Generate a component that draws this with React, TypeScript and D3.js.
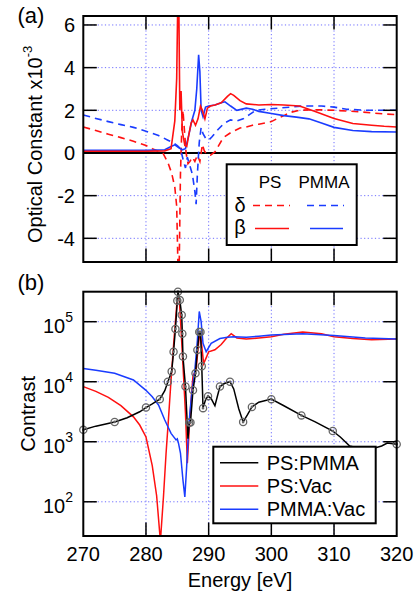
import React from 'react';
import * as d3 from 'd3';

// energy axis
const energyTicks = [270, 280, 290, 300, 310, 320];

// (a) optical constants x1e-3, [energy eV, value]
const psBeta: [number, number][] = [
  [270, 0.08], [280, 0.08], [283, 0.1], [284, 0.2], [284.6, 1.5], [284.9, 3.5], [285.05, 6.6],
  [285.25, 6.6], [285.4, 2.0], [285.6, 2.9], [285.8, 1.0], [286.2, 0.35], [286.5, 0.3], [286.8, 0.8],
  [287.2, 1.4], [287.5, 1.55], [287.9, 1.3], [288.3, 1.6], [288.7, 2.2], [289.0, 2.0], [289.4, 1.6],
  [289.8, 2.1], [290.3, 2.2], [291, 2.25], [292, 2.35], [293, 2.65], [293.5, 2.78], [294, 2.7],
  [295, 2.45], [296, 2.3], [298, 2.25], [300, 2.27], [302, 2.25], [304.5, 2.2], [307, 1.94],
  [310, 1.62], [313, 1.38], [316, 1.3], [318, 1.25], [320, 1.22],
];
const pmmaBeta: [number, number][] = [
  [270, 0.12], [280, 0.12], [283, 0.15], [284, 0.3], [284.6, 0.38], [285.2, 0.25], [285.8, 0.15],
  [286.3, 0.2], [286.8, 0.8], [287.3, 1.5], [287.8, 2.0], [288.1, 3.0], [288.4, 4.6], [288.6, 3.8],
  [288.8, 2.0], [289.1, 1.7], [289.5, 2.15], [290, 2.2], [291, 2.25], [292, 2.35], [292.6, 2.4],
  [293.5, 2.2], [294.5, 2.0], [296, 2.1], [297, 2.05], [298, 1.95], [300, 1.85], [302, 1.75],
  [304, 1.68], [306, 1.6], [308, 1.4], [310, 1.2], [313, 1.05], [316, 1.0], [320, 0.98],
];
const psDelta: [number, number][] = [
  [270, 1.22], [272, 1.05], [274, 0.88], [276, 0.72], [278, 0.55], [280, 0.35], [281, 0.2],
  [282.7, 0.0], [283.5, -0.45], [284.1, -0.95], [284.6, -1.6], [284.9, -2.5], [285.1, -5.3],
  [285.3, -5.3], [285.5, -1.0], [285.7, 1.0], [285.9, 2.0], [286.1, 1.2], [286.4, 0.0], [286.7, -0.5],
  [287.0, -0.4], [287.4, -0.2], [287.8, -0.4], [288.2, -0.1], [288.6, -0.4], [289.0, 0.4],
  [289.3, 0.1], [289.7, -0.05], [290.3, -0.1], [291, 0.05], [291.5, 0.3], [292, 0.55], [292.5, 0.75],
  [293.5, 0.95], [295, 1.17], [296, 1.22], [297, 1.3], [298, 1.35], [300, 1.47], [301, 1.62],
  [302, 1.75], [303, 1.9], [304.5, 2.0], [306, 2.02], [308, 2.02], [310, 2.0], [312, 1.97],
  [314, 1.93], [316, 1.88], [318, 1.83], [320, 1.8],
];
const pmmaDelta: [number, number][] = [
  [270, 1.78], [272, 1.62], [274, 1.47], [276, 1.33], [278, 1.2], [280, 1.02], [282, 0.82],
  [283.5, 0.6], [284.5, 0.45], [285, 0.35], [285.5, 0.2], [286, -0.4], [286.3, -0.7], [286.6, -0.2],
  [287, -0.6], [287.4, -1.0], [287.8, -1.8], [288.0, -2.4], [288.2, -1.0], [288.5, 0.5],
  [288.8, 1.2], [289.1, 0.9], [289.5, 0.7], [290, 0.6], [290.5, 0.75], [291.5, 1.1], [292.5, 1.4],
  [293.5, 1.55], [294.5, 1.5], [295.5, 1.6], [296.5, 1.8], [297.5, 2.0], [299, 2.05], [301, 2.1],
  [303, 2.15], [305, 2.2], [308, 2.2], [310, 2.15], [312, 2.05], [315, 2.0], [318, 2.0], [320, 2.0],
];
const optTicks = [-4, -2, 0, 2, 4, 6];

// (b) contrast, [energy eV, contrast]
const psPmma: [number, number][] = [
  [270, 1580], [272, 1820], [275, 2140], [277, 2510], [279, 3160], [280, 3720], [281, 4270],
  [282.2, 5130], [283, 7080], [283.5, 10000], [284.1, 14800], [284.4, 31600], [284.7, 75900],
  [285.0, 224000], [285.1, 316000], [285.4, 229000], [285.7, 129000], [285.8, 63100],
  [285.9, 26300], [286.3, 8320], [286.7, 1120], [286.9, 2090], [287.1, 2090], [287.5, 7240],
  [287.9, 13800], [288.2, 33900], [288.5, 67600], [288.7, 67600], [288.9, 18200], [289.1, 3630],
  [289.5, 5010], [289.9, 5750], [290.4, 5250], [291.0, 3980], [291.8, 8320], [292.5, 9330],
  [293.4, 10000], [294.0, 7590], [294.8, 3550], [295.5, 2140], [296.2, 2820], [296.9, 3800],
  [298, 4570], [300, 5130], [302, 3980], [304.8, 2750], [307, 2140], [309.8, 1510], [311, 1200],
  [312.5, 850], [314.5, 760], [316.5, 790], [317.6, 850], [318.5, 950], [320, 910],
];
const psPmmaMarkerE = [
  270, 275, 280, 282.2, 283.5, 284.1, 284.4, 284.7, 285.0, 285.1, 285.4, 285.7, 285.8, 285.9,
  286.3, 286.9, 287.1, 287.5, 287.9, 288.2, 288.5, 288.7, 288.9, 289.1, 289.9, 291.8, 293.4,
  295.5, 296.9, 300, 304.8, 309.8, 320,
];
const psVac: [number, number][] = [
  [270, 8300], [272, 6900], [274, 5500], [276, 4000], [278, 2600], [279, 1900], [280, 1200],
  [281, 400], [281.7, 126], [282.3, 22], [282.8, 126], [283.2, 630], [283.6, 2500], [284.0, 10700],
  [284.5, 56000], [285.0, 251000], [285.3, 251000], [285.6, 72000], [286.0, 12000], [286.3, 3000],
  [286.6, 440], [286.9, 1600], [287.2, 5000], [287.5, 12600], [288.0, 15800], [288.3, 35000],
  [288.6, 69000], [288.9, 40000], [289.2, 20000], [289.6, 25000], [290, 31600], [291, 34000],
  [292, 41700], [292.8, 52500], [293.6, 63000], [294.5, 53700], [296, 51300], [298, 53700],
  [300, 56200], [302, 61700], [305, 67600], [308, 63000], [310, 56200], [313, 52500],
  [316, 50100], [320, 51300],
];
const pmmaVac: [number, number][] = [
  [270, 16600], [272, 15500], [275, 13800], [278, 10700], [280, 7200], [281, 5600], [282, 4100],
  [283, 2300], [284, 1380], [284.8, 1070], [285.0, 1120], [285.2, 930], [285.5, 650], [285.9, 230],
  [286.2, 120], [286.5, 400], [286.8, 1600], [287.0, 3000], [287.3, 6300], [287.8, 15800],
  [288.2, 49000], [288.5, 148000], [288.8, 100000], [289.1, 43700], [289.6, 31600], [290.4, 43700],
  [291.8, 52500], [293, 55000], [294, 56200], [296, 55000], [298, 57500], [300, 60300],
  [305, 63000], [310, 58900], [315, 53700], [320, 51300],
];
const contrastTicks = [1e2, 1e3, 1e4, 1e5];
const contrastLegend = ['PS:PMMA', 'PS:Vac', 'PMMA:Vac'];

const RED = '#ff1010';
const BLUE = '#1a3cff';
const GRID = '#6f6fff';
const FONT = '"Liberation Sans", Arial, Helvetica, sans-serif';

const W = 417;
const H = 595;
const L = 83.3;
const R = 396.7;
const A_TOP = 16;
const A_BOT = 262;
const B_TOP = 291.7;
const B_BOT = 536;
const TICK = 13.5;

export default function App() {
  const x = d3.scaleLinear().domain([270, 320]).range([L, R]);
  const yA = d3.scaleLinear().domain([-5.11, 6.42]).range([A_BOT, A_TOP]);
  const yB = d3.scaleLog().domain([Math.pow(10, 1.43), Math.pow(10, 5.5)]).range([B_BOT, B_TOP]);

  const lineA = d3.line<[number, number]>().x(d => x(d[0])).y(d => yA(d[1]));
  const lineB = d3.line<[number, number]>().x(d => x(d[0])).y(d => yB(d[1]));

  const inner = energyTicks.filter(e => e > 270 && e < 320);
  const markers = psPmma.filter(d => psPmmaMarkerE.includes(d[0]));

  const frameTicks = (top: number, bot: number, yVals: number[]) => (
    <g stroke="#000" strokeWidth={1.5}>
      {inner.map(e => (
        <g key={'x' + e}>
          <line x1={x(e)} x2={x(e)} y1={top} y2={top + TICK} />
          <line x1={x(e)} x2={x(e)} y1={bot} y2={bot - TICK} />
        </g>
      ))}
      {yVals.map((y, i) => (
        <g key={'y' + i}>
          <line x1={L} x2={L + TICK} y1={y} y2={y} />
          <line x1={R} x2={R - TICK} y1={y} y2={y} />
        </g>
      ))}
    </g>
  );

  return (
    <svg
      width={W}
      height={H}
      viewBox={`0 0 ${W} ${H}`}
      style={{ position: 'absolute', left: 0, top: 0, background: '#fff' }}
      fontFamily={FONT}
    >
      <defs>
        <clipPath id="clipA">
          <rect x={L} y={A_TOP} width={R - L} height={A_BOT - A_TOP} />
        </clipPath>
        <clipPath id="clipB">
          <rect x={L} y={B_TOP} width={R - L} height={B_BOT - B_TOP} />
        </clipPath>
      </defs>
      <rect width={W} height={H} fill="#fff" />

      {/* ---------- panel (a) ---------- */}
      <g stroke={GRID} strokeWidth={1} strokeDasharray="1.2,2.4">
        {inner.map(e => (
          <line key={e} x1={x(e)} x2={x(e)} y1={A_TOP} y2={A_BOT} />
        ))}
        {optTicks.filter(v => v !== 0).map(v => (
          <line key={v} x1={L} x2={R} y1={yA(v)} y2={yA(v)} />
        ))}
      </g>
      <line x1={L} x2={R} y1={yA(0)} y2={yA(0)} stroke="#000" strokeWidth={2} />
      <g clipPath="url(#clipA)" fill="none" strokeWidth={1.6}>
        <path d={lineA(psDelta) || ''} stroke={RED} strokeDasharray="7,5" />
        <path d={lineA(pmmaDelta) || ''} stroke={BLUE} strokeDasharray="7,5" />
        <path d={lineA(pmmaBeta) || ''} stroke={BLUE} />
        <path d={lineA(psBeta) || ''} stroke={RED} />
      </g>
      {frameTicks(A_TOP, A_BOT, optTicks.map(v => yA(v)))}
      <rect x={L} y={A_TOP} width={R - L} height={A_BOT - A_TOP} fill="none" stroke="#000" strokeWidth={2} />
      <g fontSize={20} textAnchor="end">
        {optTicks.map(v => (
          <text key={v} x={75} y={yA(v)} dy="0.36em">{v}</text>
        ))}
      </g>
      <text x={31} y={23} fontSize={22} textAnchor="middle">(a)</text>
      <text transform="translate(41.5,243) rotate(-90)" fontSize={20}>
        Optical Constant x10<tspan fontSize={13} dy={-10}>-3</tspan>
      </text>

      {/* legend (a) */}
      <g>
        <rect x={226.7} y={164.3} width={130} height={80.7} fill="#fff" stroke="#000" strokeWidth={2} />
        <text x={270} y={188} fontSize={17} textAnchor="middle">PS</text>
        <text x={324} y={188} fontSize={17} textAnchor="middle">PMMA</text>
        <text x={240} y={212} fontSize={20} textAnchor="middle">δ</text>
        <text x={240} y={234} fontSize={20} textAnchor="middle">β</text>
        <line x1={253} x2={290} y1={205.5} y2={205.5} stroke={RED} strokeWidth={1.6} strokeDasharray="7,5" />
        <line x1={307} x2={344} y1={205.5} y2={205.5} stroke={BLUE} strokeWidth={1.6} strokeDasharray="7,5" />
        <line x1={255} x2={289} y1={228.5} y2={228.5} stroke={RED} strokeWidth={1.6} />
        <line x1={310} x2={343} y1={228.5} y2={228.5} stroke={BLUE} strokeWidth={1.6} />
      </g>

      {/* ---------- panel (b) ---------- */}
      <g stroke={GRID} strokeWidth={1} strokeDasharray="1.2,2.4">
        {inner.map(e => (
          <line key={e} x1={x(e)} x2={x(e)} y1={B_TOP} y2={B_BOT} />
        ))}
        {contrastTicks.map(v => (
          <line key={v} x1={L} x2={R} y1={yB(v)} y2={yB(v)} />
        ))}
      </g>
      <g clipPath="url(#clipB)" fill="none" strokeWidth={1.5}>
        <path d={lineB(psVac) || ''} stroke={RED} />
        <path d={lineB(pmmaVac) || ''} stroke={BLUE} />
        <path d={lineB(psPmma) || ''} stroke="#000" />
      </g>
      <g fill="none" stroke="#666" strokeWidth={1.3}>
        {markers.map((d, i) => (
          <g key={i}>
            <circle cx={x(d[0])} cy={yB(d[1])} r={3.6} />
            <circle cx={x(d[0])} cy={yB(d[1])} r={0.7} fill="#666" />
          </g>
        ))}
      </g>
      {frameTicks(B_TOP, B_BOT, contrastTicks.map(v => yB(v)))}
      <rect x={L} y={B_TOP} width={R - L} height={B_BOT - B_TOP} fill="none" stroke="#000" strokeWidth={2} />
      <g fontSize={20} textAnchor="end">
        {contrastTicks.map(v => (
          <text key={v} x={73} y={yB(v) + 11.5}>
            10<tspan fontSize={14} dy={-11}>{Math.round(Math.log10(v))}</tspan>
          </text>
        ))}
      </g>
      <g fontSize={20} textAnchor="middle">
        {energyTicks.map(e => (
          <text key={e} x={x(e)} y={560.5}>{e}</text>
        ))}
      </g>
      <text x={(L + R) / 2} y={586.5} fontSize={20} textAnchor="middle">Energy [eV]</text>
      <text x={31} y={290} fontSize={22} textAnchor="middle">(b)</text>
      <text transform={`translate(35,${(B_TOP + B_BOT) / 2}) rotate(-90)`} fontSize={20} textAnchor="middle">
        Contrast
      </text>

      {/* legend (b) */}
      <g>
        <rect x={213.3} y={446.7} width={162.4} height={76.6} fill="#fff" stroke="#000" strokeWidth={2} />
        {contrastLegend.map((name, i) => (
          <g key={name}>
            <line
              x1={220}
              x2={258.3}
              y1={462.7 + i * 23.3}
              y2={462.7 + i * 23.3}
              stroke={[ '#000', RED, BLUE ][i]}
              strokeWidth={1.6}
            />
            <text x={266.7} y={462.7 + i * 23.3 + 7} fontSize={20}>{name}</text>
          </g>
        ))}
      </g>
    </svg>
  );
}
